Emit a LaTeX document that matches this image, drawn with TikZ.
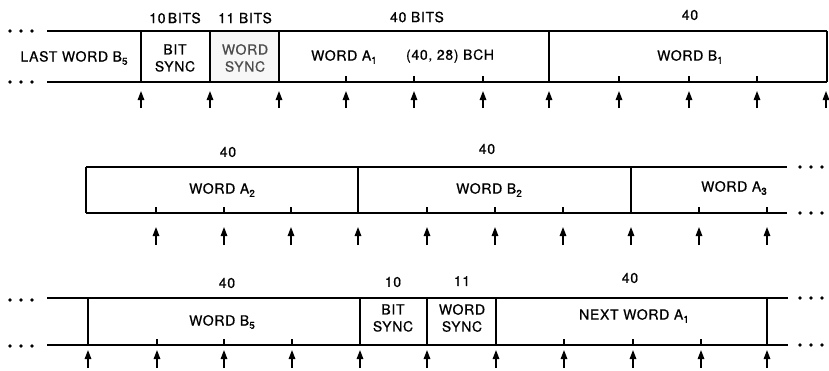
\documentclass[tikz,border=0pt]{standalone}
\usepackage{fontspec}
\setmainfont{TeX Gyre Heros}[LetterSpace=5,FakeBold=0.6]
\usetikzlibrary{arrows.meta}
\newcommand\lsub[1]{\raisebox{-0.45ex}{\fontsize{10}{10}\selectfont #1}}
\begin{document}
\begin{tikzpicture}[x=1pt,y=-1pt, line width=1.3pt,
  lbl/.style={font=\fontsize{14}{17}\selectfont, inner sep=0pt, align=center},
  ptr/.style={-{Triangle[length=9pt,width=6.5pt]}, line width=1.4pt},
  syncfill/.style={fill=black!3, draw=none}]
\useasboundingbox[fill=white] (0,0) rectangle (829,370);

% ---------- Row 1 ----------
\fill[syncfill] (210,31) rectangle (279,82);
\draw (47,31) -- (827,31);
\draw (47,82) -- (827,82);
\foreach \x in {141,210,279,549,827} \draw (\x,31) -- (\x,82);
\foreach \x in {346,414,483,619,689,757} \draw (\x,82) -- (\x,76);
\foreach \x [count=\i] in {141,210,279,346,414,483,549,619,689,757,826} {
  \coordinate (a1s\i) at (\x,108); \coordinate (a1e\i) at (\x,91);
  \draw[ptr] (a1s\i) -- (a1e\i);}
\foreach \x in {10,21,32} {\fill (\x,31) circle (1.8); \fill (\x,82) circle (1.8);}
\node[lbl] (t10) at (175,18) {10\,BITS};
\node[lbl] (t11) at (245,18) {11 BITS};
\node[lbl] (t40a) at (417,17) {40 BITS};
\node[lbl] (t40b) at (690,15) {40};
\node[lbl] (lastB5) at (74,58) {LAST WORD B\lsub{5}};
\node[lbl] (bs1) at (175,58) {BIT\\SYNC};
\node[lbl, text=black!70] (ws1) at (245,58) {WORD\\SYNC};
\node[lbl] (wa1) at (344,57) {WORD A\lsub{1}};
\node[lbl] (bch) at (450,56) {(40, 28) BCH};
\node[lbl] (wb1) at (690,57) {WORD B\lsub{1}};

% ---------- Row 2 ----------
\draw (86,167) -- (787,167);
\draw (86,213) -- (787,213);
\foreach \x in {86,358,631} \draw (\x,167) -- (\x,213);
\foreach \x in {156,224,291,427,495,563,699,767} \draw (\x,213) -- (\x,207);
\foreach \x [count=\i] in {156,224,291,358,427,495,563,631,699,767} {
  \coordinate (a2s\i) at (\x,245); \coordinate (a2e\i) at (\x,227);
  \draw[ptr] (a2s\i) -- (a2e\i);}
\foreach \x in {800,811,822} {\fill (\x,167) circle (1.8); \fill (\x,213) circle (1.8);}
\node[lbl] (r2n1) at (228,152) {40};
\node[lbl] (r2n2) at (487,149) {40};
\node[lbl] (wa2) at (222,190) {WORD A\lsub{2}};
\node[lbl] (wb2) at (489,190) {WORD B\lsub{2}};
\node[lbl] (wa3) at (734,188) {WORD A\lsub{3}};

% ---------- Row 3 ----------
\draw (47,298) -- (788,298);
\draw (47,345) -- (788,345);
\foreach \x in {88,360,427,496,767} \draw (\x,298) -- (\x,345);
\foreach \x in {157,224,292,564,633,701} \draw (\x,345) -- (\x,339);
\foreach \x [count=\i] in {88,157,224,292,360,427,496,564,633,701,767} {
  \coordinate (a3s\i) at (\x,368); \coordinate (a3e\i) at (\x,350);
  \draw[ptr] (a3s\i) -- (a3e\i);}
\foreach \x in {10,21,32} {\fill (\x,300) circle (1.8); \fill (\x,346) circle (1.8);}
\foreach \x in {800,811,822} {\fill (\x,298) circle (1.8); \fill (\x,345) circle (1.8);}
\node[lbl] (r3n1) at (227,283) {40};
\node[lbl] (r3n2) at (393,282) {10};
\node[lbl] (r3n3) at (462,281) {11};
\node[lbl] (r3n4) at (630,278) {40};
\node[lbl] (wb5) at (222,322) {WORD B\lsub{5}};
\node[lbl] (bs3) at (393,318) {BIT\\SYNC};
\node[lbl] (ws3) at (462,318) {WORD\\SYNC};
\node[lbl] (nwa1) at (634,316) {NEXT WORD A\lsub{1}};
\end{tikzpicture}
\end{document}
